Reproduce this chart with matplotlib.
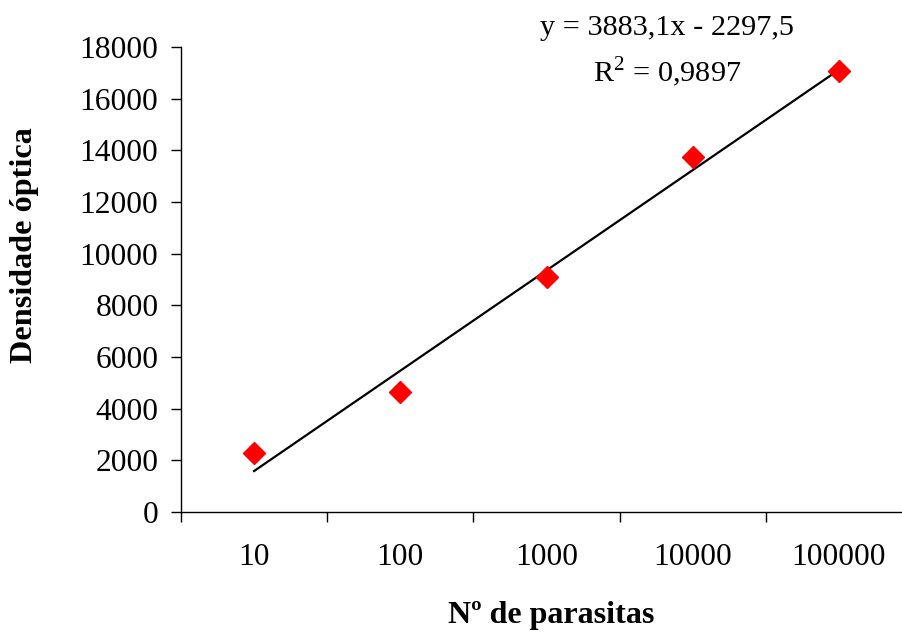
import matplotlib
matplotlib.use("Agg")
import matplotlib.pyplot as plt
import numpy as np

categories = ["10", "100", "1000", "10000", "100000"]
densidade = [2280, 4640, 9100, 13740, 17070]
slope = 3883.1
intercept = -2297.5
eq_text = "y = 3883,1x - 2297,5"
r2_text = "R$^{2}$ = 0,9897"
yticks = list(range(0, 18001, 2000))

plt.rcParams['font.family'] = ['Liberation Serif', 'DejaVu Serif']
plt.rcParams['mathtext.fontset'] = 'custom'
plt.rcParams['mathtext.rm'] = 'Liberation Serif'

W, H = 902, 637
fig = plt.figure(figsize=(W / 100, H / 100), dpi=100)
x0, x1 = 181, 912
y0, y1 = 512, 47
ax = fig.add_axes([x0 / W, 1 - y0 / H, (x1 - x0) / W, (y0 - y1) / H])

xpos = np.arange(1, len(categories) + 1)
xt = np.array([1, len(categories)])
ax.plot(xt, slope * xt + intercept, color='black', lw=1.6, zorder=2)
ax.plot(xpos, densidade, linestyle='none', marker='D', ms=11.5,
        color='#ff0000', markeredgecolor='#ff0000', zorder=3, clip_on=False)

ax.set_xlim(0.5, len(categories) + 0.5)
ax.set_ylim(0, 18000)
ax.set_yticks(yticks)
ax.set_yticklabels([str(v) for v in yticks], fontsize=22.7)
ax.set_xticks(np.arange(0.5, len(categories) + 1, 1.0))
ax.set_xticklabels([])
ax.set_xticks(xpos, minor=True)
ax.set_xticklabels(categories, minor=True, fontsize=22.7)
ax.tick_params(axis='x', which='minor', length=0, pad=22)
ax.tick_params(axis='x', which='major', length=7.2, width=1, direction='out')
ax.tick_params(axis='y', length=7.2, width=1, direction='out', pad=9)

for s in ['top', 'right']:
    ax.spines[s].set_visible(False)
for s in ['left', 'bottom']:
    ax.spines[s].set_linewidth(1.0)
    ax.spines[s].set_color('black')

fig.text(25 / W, 1 - 245 / H, "Densidade óptica", rotation=90, fontsize=23.2,
         fontweight='bold', ha='center', va='center')
fig.text(551 / W, 1 - 615 / H, "Nº de parasitas", fontsize=23.1,
         fontweight='bold', ha='center', va='center')
fig.text(667 / W, 1 - 28 / H, eq_text, fontsize=21.8, ha='center', va='center')
fig.text(667 / W, 1 - 72 / H, r2_text, fontsize=21.8, ha='center', va='center')

fig.savefig("out.png", dpi=100)
